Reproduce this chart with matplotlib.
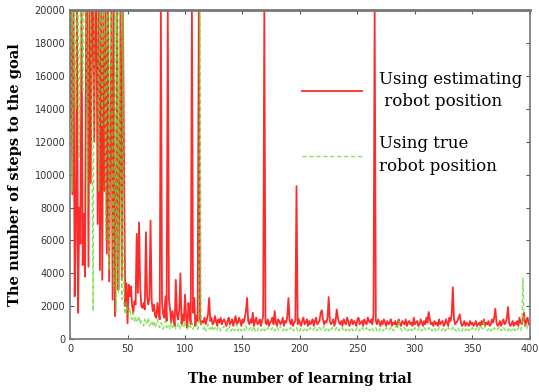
import matplotlib
matplotlib.use("Agg")
import matplotlib.pyplot as plt
import numpy as np

# steps to goal, estimated robot position (red)
red_early = [13500, 20000, 8800, 20000, 2600, 6000, 20000, 1600, 8000, 5800,
             20000, 4500, 7600, 3800, 20000, 20000, 4400, 20000, 9500, 20000,
             20000, 12000, 20000, 20000, 7000, 20000, 4200, 20000, 3600, 20000,
             9000, 20000, 5200, 20000, 3500, 12000, 20000, 2400, 20000, 1400,
             6800, 20000, 3000, 9800, 20000, 3600, 20000, 10500, 2000, 3400]
red_mid = [950, 3300, 2600, 3200, 2000, 1600, 2300, 2100, 6400, 2800,
           7100, 3200, 2000, 1900, 2200, 1800, 6500, 2600, 2100, 2500,
           7200, 2300, 1700, 2100, 1400, 1300, 2200, 1600, 1200, 20000,
           2200, 1500, 1300, 2600, 1100, 20000, 2400, 1800, 1000, 1700,
           1300, 800, 3600, 1500, 1200, 1800, 4000, 900, 1500, 1100,
           2700, 1300, 700, 2200, 1400, 900, 20000, 1600, 2500, 800,
           1400, 1100, 20000, 1200, 900]
red_late = [1100, 1000, 1300, 900, 1200, 1500, 2500, 1100, 1300, 900, 1000, 1400, 1100, 800, 1200, 1000, 1300, 900, 1100, 1200,
            1000, 800, 1100, 1300, 900, 1000, 1200, 800, 1100, 1400, 900, 1000, 1300, 1100, 800, 1200, 1000, 1300, 1700, 2500,
            1100, 900, 1200, 1000, 1600, 800, 1100, 1300, 900, 1000, 1200, 800, 1100, 1400, 20000, 1000, 900, 1200, 800, 1000,
            1100, 1300, 900, 1700, 1000, 800, 1200, 1100, 900, 1000, 1300, 800, 1100, 1000, 1400, 2500, 1100, 900, 1200, 800,
            1000, 1100, 9300, 900, 1200, 1000, 800, 1100, 1300, 900, 1000, 1200, 800, 1100, 900, 1000, 1200, 800, 1100, 1300,
            900, 1000, 1100, 1600, 1750, 1200, 900, 1100, 1000, 1300, 2550, 1100, 900, 1000, 1200, 800, 1100, 1800, 1300, 1000,
            900, 1100, 800, 1200, 1000, 900, 1300, 1100, 800, 1000, 1200, 900, 1100, 1000, 800, 1200, 1300, 900, 1000, 1100,
            800, 1200, 1000, 900, 1300, 1100, 1000, 1200, 900, 1500, 20000, 1100, 900, 1200, 1000, 800, 1100, 900, 1200, 1000,
            800, 1100, 900, 1000, 1200, 800, 1000, 900, 1100, 800, 1000, 1200, 900, 800, 1100, 1000, 900, 1200, 800, 1000,
            1100, 900, 1000, 800, 1300, 900, 1000, 1100, 800, 900, 1200, 1000, 800, 1100, 900, 1300, 1000, 1650, 1200, 900,
            1000, 800, 1100, 900, 1000, 800, 1200, 900, 1000, 1100, 800, 900, 1200, 1000, 800, 1300, 1100, 1500, 3150, 1200,
            900, 1000, 1100, 1300, 1500, 1000, 800, 900, 1100, 800, 1000, 900, 800, 1100, 900, 1000, 800, 900, 1100, 800,
            900, 1000, 800, 1100, 900, 1200, 800, 1000, 900, 1100, 800, 900, 1200, 1000, 1300, 1850, 1000, 800, 900, 1100,
            800, 1000, 1200, 900, 1000, 1300, 1950, 1000, 800, 900, 1100, 800, 1000, 900, 1100, 800, 1300, 1000, 900, 1200,
            1600, 800, 1100, 1300, 900]

# steps to goal, true robot position (green)
green_early = [16000, 20000, 9000, 20000, 20000, 14000, 20000, 20000, 11000, 20000,
               20000, 15000, 20000, 20000, 20000, 8000, 20000, 20000, 20000, 12000,
               1700, 20000, 20000, 20000, 20000, 9000, 20000, 20000, 13000, 20000,
               20000, 6000, 20000, 20000, 4200, 20000, 20000, 7500, 3200, 20000,
               1600, 20000, 2800, 20000, 9500, 2400, 20000, 1900, 1500, 2200]
green_mid = [1700, 1400, 1900, 1300, 1200, 1600, 1100, 1300, 1000, 1200, 1400, 900, 1100, 1000, 800, 1200, 900, 1000, 1300, 800,
             900, 1100, 800, 1000, 700, 900, 1200, 800, 700, 1000, 900, 600, 800, 1100, 700, 900, 800, 600, 1000, 700,
             800, 900, 600, 700, 1000, 800, 600, 900, 700, 800, 1100, 700, 600, 900, 800, 700, 1000, 600, 800, 700,
             900, 600, 1000, 20000, 800]
green_late = [700, 600, 800, 500, 700, 900, 600, 700, 500, 800, 600, 700, 500, 600, 800, 700, 500, 600, 700, 800,
              600, 500, 700, 600, 800, 500, 600, 700, 500, 600, 900, 500, 700, 600, 500, 600, 700, 500, 800, 600,
              500, 600, 700, 500, 600, 800, 500, 600, 500, 700, 600, 500, 600, 700, 500, 600, 500, 700, 600, 500,
              600, 700, 500, 600, 500, 700, 600, 500, 800, 600, 500, 600, 700, 500, 600, 500, 600, 700, 500, 600,
              500, 600, 700, 500, 600, 500, 700, 600, 500, 600, 700, 500, 600, 500, 700, 600, 500, 600, 700, 500,
              600, 500, 700, 600, 500, 600, 800, 500, 600, 700, 500, 600, 500, 700, 600, 500, 600, 700, 500, 600,
              500, 600, 700, 500, 600, 500, 700, 600, 500, 600, 700, 500, 600, 500, 600, 700, 500, 600, 500, 700,
              600, 500, 600, 700, 500, 600, 500, 700, 600, 500, 600, 700, 500, 600, 500, 700, 600, 500, 600, 500,
              700, 600, 500, 600, 700, 500, 600, 500, 700, 800, 600, 1100, 700, 600, 500, 600, 700, 500, 600, 500,
              600, 700, 500, 600, 500, 700, 600, 500, 600, 700, 500, 600, 500, 700, 600, 500, 600, 700, 500, 600,
              500, 600, 700, 500, 600, 500, 700, 600, 500, 600, 700, 500, 600, 500, 700, 600, 500, 600, 700, 500,
              600, 500, 700, 600, 500, 600, 500, 700, 600, 500, 600, 700, 500, 600, 500, 700, 600, 500, 600, 700,
              500, 600, 800, 700, 600, 1100, 700, 600, 500, 600, 700, 500, 600, 500, 700, 600, 500, 600, 700, 500,
              600, 500, 700, 600, 500, 600, 500, 700, 600, 500, 600, 700, 500, 600, 500, 700, 600, 500, 900, 3700,
              1200, 700, 600, 800, 600]

red = np.array(red_early + red_mid + red_late)
green = np.array(green_early + green_mid + green_late)

fig = plt.figure(figsize=(5.39, 3.92), dpi=100)
ax = fig.add_axes([0.130, 0.135, 0.853, 0.839])

ax.plot(np.arange(len(red)), red, color='#ff2a2a', linewidth=1.3,
        label="Using estimating\n robot position")
ax.plot(np.arange(len(green)), green, color='#66dd33', linewidth=1.0,
        linestyle=(0, (3, 2)), alpha=0.8, label="Using true\nrobot position")

ax.set_xlim(0, 400)
ax.set_ylim(0, 20000)
ax.set_xticks(np.arange(0, 401, 50))
ax.set_yticks(np.arange(0, 20001, 2000))
ax.tick_params(direction='in', length=3, labelsize=7, labelcolor='#333333',
               color='#555555', top=True, right=True)
for s in ax.spines.values():
    s.set_color('#777777')
    s.set_linewidth(1.2)
ax.spines['top'].set_linewidth(2)

ax.set_xlabel("The number of learning trial", family='DejaVu Serif',
              fontweight='bold', fontsize=10, labelpad=13)
ax.set_ylabel("The number of steps to the goal", family='DejaVu Serif',
              fontweight='bold', fontsize=10.5, labelpad=9)

leg = ax.legend(loc='upper left', bbox_to_anchor=(0.49, 0.835), frameon=False,
                prop={'family': 'DejaVu Serif', 'size': 12},
                handlelength=3.6, handletextpad=1.0, labelspacing=1.5,
                borderaxespad=0.)
for t in leg.get_texts():
    t.set_linespacing(1.4)

fig.savefig("out.png", dpi=100)
